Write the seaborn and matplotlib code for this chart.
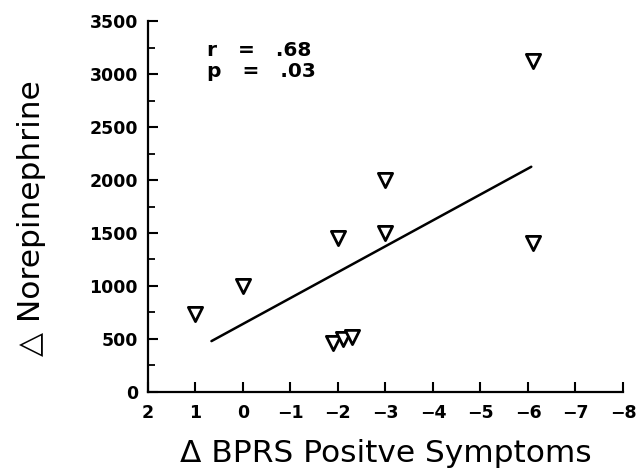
import matplotlib
matplotlib.use("Agg")
import matplotlib.pyplot as plt
import seaborn as sns
import pandas as pd
import numpy as np

# Data
bprs_change = [1.0, 0.0, -2.0, -1.9, -2.1, -2.3, -3.0, -3.0, -6.1, -6.1]
ne_change = [740, 1000, 1450, 460, 500, 515, 1500, 2000, 3120, 1410]
fit_x = [0.66, -6.07]
fit_y = [480, 2125]
x_ticks = [2, 1, 0, -1, -2, -3, -4, -5, -6, -7, -8]
y_ticks = [0, 500, 1000, 1500, 2000, 2500, 3000, 3500]
stat_lines = ["r   =   .68", "p   =   .03"]

df = pd.DataFrame({"x": bprs_change, "y": ne_change})
fit = pd.DataFrame({"x": fit_x, "y": fit_y})

sns.set_style("white")
plt.rcParams["font.family"] = ["DejaVu Sans"]
plt.rcParams["text.color"] = "black"
plt.rcParams["axes.labelcolor"] = "black"

fig = plt.figure(figsize=(6.37, 4.72), dpi=100)
ax = fig.add_axes([0.232, 0.1695, 0.746, 0.786])

sns.lineplot(data=fit, x="x", y="y", ax=ax, color="black", linewidth=1.8,
             sort=False)
sns.scatterplot(data=df, x="x", y="y", ax=ax, marker="v", s=105,
                facecolor="white", edgecolor="black", linewidth=2.0, zorder=3)

ax.set_xlim(2, -8)
ax.set_ylim(0, 3500)
ax.set_xticks(x_ticks)
ax.set_xticklabels([("\u2212" + str(-t)) if t < 0 else str(t) for t in x_ticks],
                   fontweight="bold", fontsize=12.5)
ax.set_yticks(y_ticks)
ax.set_yticklabels([str(t) for t in y_ticks], fontweight="bold", fontsize=12.5)
ax.set_yticks(np.arange(250, 3500, 500), minor=True)
ax.tick_params(axis="x", which="major", direction="in", length=7, width=1.5,
               pad=9, colors="black", bottom=True)
ax.tick_params(axis="y", which="major", direction="in", length=7, width=1.5,
               pad=7, colors="black", left=True)
ax.tick_params(axis="y", which="minor", direction="in", length=5, width=1.3,
               left=True, colors="black")

for s in ["top", "right"]:
    ax.spines[s].set_visible(False)
for s in ["left", "bottom"]:
    ax.spines[s].set_linewidth(1.6)
    ax.spines[s].set_color("black")

ax.set_xlabel("\u0394 BPRS Positve Symptoms", fontsize=22.5)
ax.set_ylabel("\u25B3 Norepinephrine", fontsize=22.5)
ax.xaxis.set_label_coords(0.5, -0.128)
ax.yaxis.set_label_coords(-0.215, 0.47)

ax.text(0.76, 3225, stat_lines[0], fontsize=14.5, fontweight="bold", va="center")
ax.text(0.76, 3020, stat_lines[1], fontsize=14.5, fontweight="bold", va="center")

fig.savefig("out.png", dpi=100, facecolor="white")
